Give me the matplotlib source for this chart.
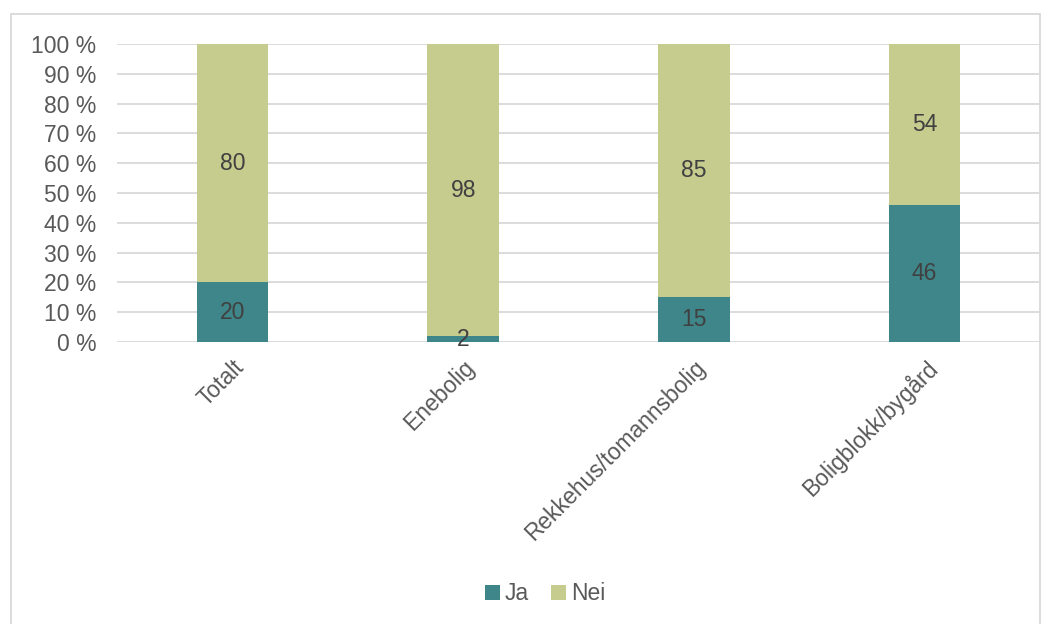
import matplotlib.pyplot as plt
from matplotlib.patches import Rectangle

plt.rcParams['font.family'] = ['Liberation Sans', 'DejaVu Sans']

categories = ['Totalt', 'Enebolig', 'Rekkehus/tomannsbolig', 'Boligblokk/bygård']
ja = [20, 2, 15, 46]
nei = [80, 98, 85, 54]

teal = '#3F868A'
green = '#C5CC8E'
grid = '#D9D9D9'
txt = '#595959'
fs = 16.5

fig = plt.figure(figsize=(10.56, 6.24), dpi=100)
ax = fig.add_axes([117 / 1056, 1 - 342 / 624, (1040 - 117) / 1056, (342 - 44) / 624])

x = range(len(categories))
b1 = ax.bar(x, ja, width=0.31, color=teal, label='Ja', zorder=3)
b2 = ax.bar(x, nei, bottom=ja, width=0.31, color=green, label='Nei', zorder=3)

for i in x:
    ax.text(i, ja[i] / 2, str(ja[i]), ha='center', va='center', fontsize=fs, color='#404040', zorder=4)
    ax.text(i, ja[i] + nei[i] / 2, str(nei[i]), ha='center', va='center', fontsize=fs, color='#404040', zorder=4)

ax.set_xlim(-0.5, len(categories) - 0.5)
ax.set_ylim(0, 100)
ax.set_yticks(range(0, 101, 10))
ax.set_yticklabels([f'{v} %' for v in range(0, 101, 10)], fontsize=fs, color=txt)
ax.set_xticks(list(x))
ax.set_xticklabels(categories, rotation=45, ha='right', rotation_mode='anchor', fontsize=fs, color=txt)
ax.tick_params(length=0)
ax.tick_params(axis='y', pad=15)
ax.tick_params(axis='x', pad=10)
ax.grid(axis='y', color=grid, linewidth=1.3, zorder=0)
ax.set_axisbelow(True)
for s in ax.spines.values():
    s.set_visible(False)

fig.patches.append(Rectangle((11 / 1056, -0.01), (1040 - 11) / 1056, 1 - 14 / 624 + 0.01,
                             transform=fig.transFigure, fill=False, edgecolor=grid, linewidth=1.3))

fig.legend(handles=[b1, b2], labels=['Ja', 'Nei'], loc='center', bbox_to_anchor=(545 / 1056, 1 - 594 / 624),
           ncol=2, frameon=False, fontsize=fs, labelcolor=txt, handlelength=0.65, handleheight=0.65,
           handletextpad=0.2, columnspacing=1.0)

fig.savefig('out.png', dpi=100)
